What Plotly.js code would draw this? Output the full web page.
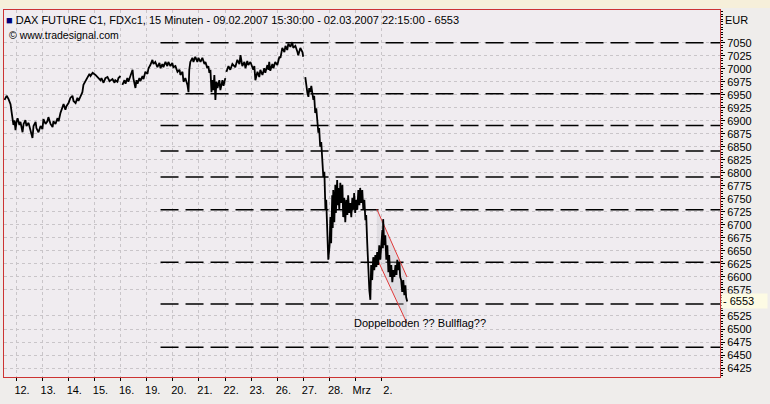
<!DOCTYPE html>
<html><head><meta charset="utf-8">
<script src="https://cdn.plot.ly/plotly-3.0.1.min.js"></script>
<style>html,body{margin:0;padding:0;background:#efedeb;}#chart{width:770px;height:404px;}</style>
</head><body><div id="chart"></div>
<script>
// x in trading-day units: 0 = start of 12 Feb session; null = break in the line
const priceX = [
  -0.44,-0.36,-0.29,-0.21,-0.17,-0.10,-0.06,-0.02,0.02,0.06,0.13,0.17,0.25,0.29,0.36,0.40,0.48,0.55,0.63,0.67,0.75,0.78,0.86,0.94,1.01,1.05,1.13,1.20,1.24,1.32,1.40,1.43,1.51,1.59,1.63,1.70,1.78,1.82,1.89,1.93,2.01,2.08,2.16,2.20,2.28,2.35,2.39,2.47,2.54,2.58,2.66,2.73,2.81,2.85,2.93,3.04,3.12,3.23,3.27,3.35,3.42,3.50,3.58,3.69,3.77,3.80,3.88,3.92,4.00,
  null,
  4.07,4.15,4.19,4.26,4.30,4.38,4.46,4.49,4.57,4.61,4.65,4.72,4.76,4.84,4.88,4.95,5.03,5.07,5.14,5.22,5.26,5.33,5.41,5.49,5.53,5.60,5.64,5.72,5.79,5.83,5.91,5.98,6.02,6.10,6.18,6.26,6.29,6.37,6.41,6.48,6.56,6.60,6.63,6.67,6.75,6.79,6.86,6.94,6.98,7.06,7.13,7.21,7.25,7.32,7.36,7.40,7.44,7.48,7.51,7.55,7.59,7.63,7.67,7.71,7.78,7.82,7.90,7.94,8.01,
  null,
  8.05,8.13,8.20,8.28,8.39,8.47,8.55,8.59,8.66,8.74,8.78,8.85,8.89,8.97,9.08,9.12,9.16,9.24,9.31,9.35,9.43,9.50,9.54,9.62,9.66,9.69,9.73,9.81,9.85,9.92,10.00,10.08,10.12,10.19,10.27,10.31,10.38,10.42,10.50,10.57,10.61,10.69,10.77,10.80,10.88,10.96,10.99,
  null,
  11.07,11.11,11.15,11.19,11.22,11.26,11.30,11.34,11.38,11.41,11.45,11.49,11.53,11.57,11.60,11.64,11.68,11.72,11.76,11.80,11.84,11.87,11.91,11.95,
  12.00,12.03,12.06,12.10,12.12,12.14,12.18,12.22,12.24,12.29,12.31,12.33,12.37,12.41,12.45,12.49,12.52,12.56,12.60,12.64,12.68,12.71,12.75,12.79,12.83,12.87,12.91,12.94,12.98,13.02,13.06,13.10,13.14,13.17,13.21,13.25,13.29,13.33,13.37,13.40,13.44,
  13.48,13.52,13.56,13.59,13.63,13.67,13.71,13.75,13.79,13.82,13.86,13.90,13.94,14.02,14.04,14.05,14.09,14.13,14.17,14.21,14.25,14.28,14.32,14.36,14.40,14.44,14.48,14.52,14.56,14.59,14.63,14.67,14.70,14.74,14.78,14.82,14.86,14.90,14.93,14.97];
const priceY = [
  6940,6948,6942,6932,6917,6892,6901,6882,6898,6905,6892,6898,6878,6894,6901,6890,6896,6882,6867,6890,6898,6886,6878,6890,6884,6903,6894,6899,6907,6894,6888,6899,6894,6905,6899,6915,6924,6932,6921,6928,6934,6944,6948,6938,6934,6944,6938,6946,6955,6969,6976,6984,6990,6986,6992,6988,6984,6978,6982,6973,6982,6984,6976,6980,6973,6978,6975,6982,6986,
  null,
  6969,6978,6971,6982,6975,6986,6998,6982,6963,6978,6971,6982,6976,6986,6980,6994,6990,7001,7007,7017,7009,7013,7003,7011,7001,7009,7003,7013,7005,7013,7005,7011,7003,7005,6994,6998,6988,6994,6975,6982,6969,6955,6998,7013,7021,7013,7023,7013,7021,7013,7021,7009,7013,7001,7005,6992,6998,6955,6978,6959,6988,6940,6975,6963,6978,6959,6978,6967,6982,
  null,
  6994,7005,6998,7009,7003,7017,7009,7026,7005,7013,7001,7015,7007,7013,6998,7005,6978,6994,6984,6998,6988,7001,6992,7007,6998,7013,6996,7009,7001,7013,7007,7023,7021,7040,7032,7044,7036,7048,7042,7051,7040,7044,7032,7026,7040,7032,7023,
  null,
  6984,6963,6953,6946,6963,6955,6967,6953,6940,6948,6915,6924,6888,6877,6886,6850,6859,6819,6792,6802,6729,6748,6690,6633,
  6661,6715,6665,6757,6694,6767,6705,6777,6723,6786,6738,6771,6729,6781,6742,6777,6715,6752,6705,6748,6719,6757,6723,6742,6715,6752,6729,6761,6723,6748,6729,6767,6738,6771,6742,6767,6729,6748,6709,6719,6665,
  6613,6575,6556,6623,6594,6638,6613,6642,6619,6648,6623,6661,6633,6690,6655,6711,6661,6680,6633,6661,6609,6642,6600,6623,6590,6613,6600,6623,6604,6633,6613,6629,6600,6594,6571,6594,6565,6584,6561,6553];

// horizontal support/resistance levels
const levels = [7050,6952,6891,6842,6792,6729,6628,6548,6465];
const levelStart = 5.53;

// drawn channel (flag)
const channelX = [13.81,14.96];
const channelUpper = [6730,6600];
const channelLower = [6636,6511];

// axis ticks
const dayTicks = [0,1,2,3,4,5,6,7,8,9,10,11,12,13,14];
const dayLabels = ['12.','13.','14.','15.','16.','19.','20.','21.','22.','23.','26.','27.','28.','Mrz','2.'];
const priceTicks = [6425,6450,6475,6500,6525,6575,6600,6625,6650,6675,6700,6725,6750,6775,6800,6825,6850,6875,6900,6925,6950,6975,7000,7025,7050];
const lastPrice = 6553;

const xRange = [-0.46, 26.94];
const yRange = [6407.8, 7112.8];
const FONT = 'Liberation Sans, Arial, sans-serif';

const traces = [];
levels.forEach(v => traces.push({
  x:[levelStart, xRange[1]], y:[v, v], mode:'lines', hoverinfo:'skip',
  line:{color:'#000', width:1.5, dash:'18px,7px'}, showlegend:false
}));
traces.push({x:channelX, y:channelUpper, mode:'lines', line:{color:'#e03a3a', width:1}, showlegend:false});
traces.push({x:channelX, y:channelLower, mode:'lines', line:{color:'#e03a3a', width:1}, fill:'tonexty', fillcolor:'rgba(195,195,200,0.35)', showlegend:false});
traces.push({x:priceX, y:priceY, mode:'lines', connectgaps:false, line:{color:'#000', width:1.8}, showlegend:false});

const layout = {
  width:770, height:404,
  margin:{l:4, r:50, t:10, b:27},
  paper_bgcolor:'#efedeb', plot_bgcolor:'#f0ecf0',
  font:{family:FONT, size:11, color:'#000'},
  xaxis:{range:xRange, tickvals:dayTicks, ticktext:dayLabels, ticks:'outside', ticklen:3, tickcolor:'#000',
    ticklabelshift:6, showgrid:true, gridcolor:'#c9c5c9', griddash:'dot', zeroline:false,
    showline:true, linecolor:'#cc3333', linewidth:1, mirror:true, tickfont:{size:11, family:FONT}},
  yaxis:{range:yRange, side:'right', tickvals:priceTicks, ticks:'outside', ticklen:4, tickcolor:'#000',
    showgrid:true, gridcolor:'#c9c5c9', griddash:'dot', zeroline:false,
    showline:true, linecolor:'#cc3333', linewidth:1, mirror:true, tickfont:{size:11, family:FONT},
    minor:{dtick:5, ticks:'outside', ticklen:2, tickcolor:'#000', showgrid:false}},
  shapes:[
    {type:'rect', xref:'paper', yref:'paper', x0:-0.01, x1:1.1, y0:1+2/367, y1:1+10/367, fillcolor:'#f6efda', line:{width:0}, layer:'below'}
  ],
  annotations:[
    {xref:'paper', yref:'paper', x:0, y:1, xanchor:'left', yanchor:'top', xshift:0, yshift:-2, showarrow:false,
     text:'<span style="color:#00007a">■</span> DAX FUTURE C1, FDXc1, 15 Minuten - 09.02.2007 15:30:00 - 02.03.2007 22:15:00 - 6553', font:{size:11}},
    {xref:'paper', yref:'paper', x:0, y:1, xanchor:'left', yanchor:'top', xshift:3, yshift:-17, showarrow:false,
     text:'© www.tradesignal.com', font:{size:10.5}},
    {xref:'paper', yref:'paper', x:1, y:1, xanchor:'left', yanchor:'top', xshift:3, yshift:-2, showarrow:false,
     text:'EUR', font:{size:11}},
    {xref:'paper', yref:'y', x:1, y:lastPrice, xanchor:'left', yanchor:'middle', xshift:1, showarrow:false,
     text:'- 6553 &nbsp;&nbsp;&nbsp;', bgcolor:'#fdfbe4', borderpad:1, font:{size:11}},
    {xref:'x', yref:'y', x:12.84, y:6512, xanchor:'left', yanchor:'middle', showarrow:false,
     text:'Doppelboden ?? Bullflag??', font:{size:11}}
  ]
};
Plotly.newPlot('chart', traces, layout, {staticPlot:true, displayModeBar:false});
</script></body></html>
